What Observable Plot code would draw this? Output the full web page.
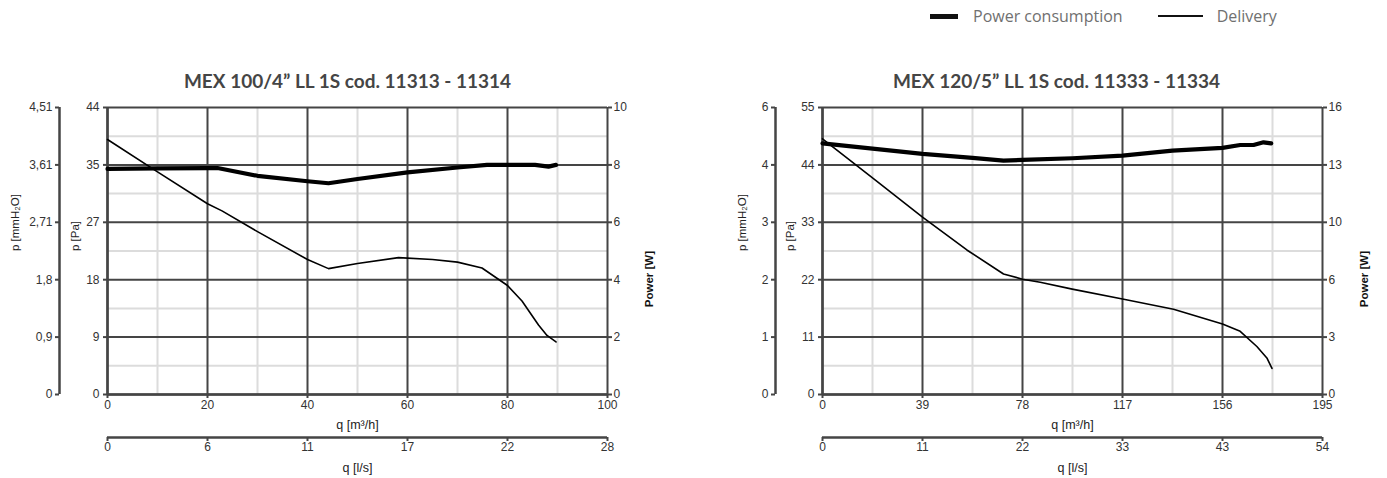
<!DOCTYPE html>
<html>
<head>
<meta charset="utf-8">
<script src="https://cdn.jsdelivr.net/npm/d3@7"></script>
<script src="https://cdn.jsdelivr.net/npm/@observablehq/plot@0.6"></script>
<style>
  body { margin: 0; background: #fff; }
  #wrap { position: relative; width: 1387px; height: 478px; overflow: hidden; background: #fff; }
  .panel { position: absolute; top: 0; }
  #legend { position: absolute; top: 5px; left: 930px; font-family: "Open Sans", sans-serif; font-size: 16px; color: #707070; display: flex; align-items: center; height: 22px; }
  .sw { display: inline-block; background: #111; }
</style>
</head>
<body>
<div id="wrap">
  <div id="p1" class="panel" style="left:0px"></div>
  <div id="p2" class="panel" style="left:715px"></div>
  <div id="legend"></div>
</div>
<script>
// ---------- data ----------
const legendLabels = ["Power consumption", "Delivery"];
const titles = ["MEX 100/4\u201D LL 1S cod. 11313 - 11314", "MEX 120/5\u201D LL 1S cod. 11333 - 11334"];
const axisTitles = { mm: "p [mmH\u2082O]", pa: "p [Pa]", power: "Power [W]", q: "q [m\u00B3/h]", ls: "q [l/s]" };

// panel 1 : MEX 100/4"
const p1QMax = 100, p1PaMax = 44.23, p1PowerMax = 10;
const p1QLabels = ["0", "20", "40", "60", "80", "100"];
const p1LsLabels = ["0", "6", "11", "17", "22", "28"];
const p1PaLabels = ["0", "9", "18", "27", "35", "44"];
const p1MmLabels = ["0", "0,9", "1,8", "2,71", "3,61", "4,51"];
const p1PowerLabels = ["0", "2", "4", "6", "8", "10"];
const p1DeliveryQ  = [0, 10, 20, 22.9, 30, 40, 44.2, 50, 58.2, 65, 70, 74.9, 80, 82.9, 86.2, 87.9, 89.7];
const p1DeliveryPa = [39.3, 34.3, 29.4, 28.3, 25.1, 20.8, 19.4, 20.2, 21.1, 20.8, 20.4, 19.5, 16.8, 14.4, 10.7, 9.1, 8.1];
const p1PowerQ = [0, 10, 20, 22, 30, 40, 44.2, 50, 60, 70, 75.9, 80, 85.5, 88.2, 89.7];
const p1PowerW = [7.86, 7.88, 7.89, 7.89, 7.62, 7.43, 7.36, 7.51, 7.74, 7.91, 8.0, 8.0, 8.0, 7.94, 8.0];

// panel 2 : MEX 120/5"
const p2QMax = 195, p2PaMax = 55, p2PowerMax = 16;
const p2QLabels = ["0", "39", "78", "117", "156", "195"];
const p2LsLabels = ["0", "11", "22", "33", "43", "54"];
const p2PaLabels = ["0", "11", "22", "33", "44", "55"];
const p2MmLabels = ["0", "1", "2", "3", "4", "6"];
const p2PowerLabels = ["0", "3", "6", "10", "13", "16"];
const p2DeliveryQ  = [0, 20, 39, 56.3, 70.6, 78, 84.9, 97.4, 117, 136.9, 156, 162.9, 169.4, 173.3, 175.3];
const p2DeliveryPa = [49.0, 41.3, 34.0, 27.7, 23.1, 22.1, 21.5, 20.2, 18.3, 16.35, 13.5, 12.1, 9.2, 7.0, 5.0];
const p2PowerQ = [0, 39, 58.5, 70.6, 78, 97.5, 117, 136.5, 156, 162.9, 168.1, 172, 175];
const p2PowerW = [14.0, 13.41, 13.19, 13.04, 13.08, 13.17, 13.32, 13.6, 13.75, 13.91, 13.91, 14.06, 14.0];

// ---------- drawing ----------
const DARK = "#454545";
function makePanel(o) {
  const qMajor = d3.range(6).map(i => i * o.qMax / 5);
  const qMinor = d3.range(5).map(i => (i + 0.5) * o.qMax / 5);
  const yMajor = d3.range(6).map(i => i * o.paMax / 5);
  const yMinor = d3.range(5).map(i => (i + 0.5) * o.paMax / 5);
  const k = o.paMax / o.powerMax;
  const lab = (ticks, labels) => d => labels[ticks.indexOf(d)];
  const delivery = o.delQ.map((q, i) => ({ q, v: o.delPa[i] }));
  const power = o.powQ.map((q, i) => ({ q, v: o.powW[i] * k }));
  const gMinor = { stroke: "#dcdcdc", strokeOpacity: 1, strokeWidth: 2 };
  const gMajor = { stroke: DARK, strokeOpacity: 1, strokeWidth: 2 };
  const tick = { stroke: DARK, strokeWidth: 2, label: null, fill: "#333" };
  return Plot.plot({
    width: o.width, height: 478,
    marginTop: 107, marginBottom: 84, marginLeft: 107, marginRight: o.width - 607,
    x: { domain: [0, o.qMax] },
    y: { domain: [0, o.paMax] },
    style: { fontFamily: "'Liberation Sans', Arial, sans-serif", fontSize: "12px", color: "#333", background: "transparent", overflow: "visible" },
    marks: [
      Plot.gridX(qMinor, gMinor),
      Plot.gridY(yMinor, gMinor),
      Plot.gridX(qMajor, gMajor),
      Plot.gridY(yMajor, gMajor),
      Plot.ruleX([0], { stroke: DARK, strokeWidth: 2.5 }),
      Plot.ruleY([0], { stroke: DARK, strokeWidth: 2.5 }),
      Plot.ruleX([0], { dx: o.mmDx, stroke: DARK, strokeWidth: 2.5 }),
      Plot.ruleY([0], { dy: 43, stroke: DARK, strokeWidth: 2.5 }),
      Plot.axisY(yMajor, { ...tick, anchor: "left", tickSize: 4, tickPadding: 4, tickFormat: lab(yMajor, o.paLabels) }),
      Plot.axisY(yMajor, { ...tick, anchor: "left", dx: o.mmDx, tickSize: 4, tickPadding: 3, tickFormat: lab(yMajor, o.mmLabels) }),
      Plot.axisY(yMajor, { ...tick, anchor: "right", tickSize: 4, tickPadding: 2, tickFormat: lab(yMajor, o.powerLabels) }),
      Plot.axisX(qMajor, { ...tick, anchor: "bottom", tickSize: 4, tickPadding: 2, tickFormat: lab(qMajor, o.qLabels) }),
      Plot.axisX(qMajor, { ...tick, anchor: "bottom", dy: 43, tickSize: 4, tickPadding: 1, tickFormat: lab(qMajor, o.lsLabels) }),
      Plot.line(delivery, { x: "q", y: "v", stroke: "#000", strokeWidth: 1.6, strokeLinejoin: "round" }),
      Plot.line(power, { x: "q", y: "v", stroke: "#000", strokeWidth: 4.2, strokeLinejoin: "round", strokeLinecap: "round" }),
      Plot.text([o.title], { frameAnchor: "top", dy: -26, dx: o.titleDx, fontSize: 19, fontWeight: "bold", fontFamily: "Lato, sans-serif", fill: "#454545", lineAnchor: "middle" }),
      Plot.text([axisTitles.mm], { frameAnchor: "left", rotate: -90, dx: o.mmLabelDx, fill: "#222", fontSize: 11.5 }),
      Plot.text([axisTitles.pa], { frameAnchor: "left", rotate: -90, dx: -32, fill: "#222", fontSize: 11.5 }),
      Plot.text([axisTitles.power], { frameAnchor: "right", rotate: -90, dx: 41.5, fill: "#111", fontSize: 11.5, fontWeight: "bold" }),
      Plot.text([axisTitles.q], { frameAnchor: "bottom", dy: 30, fill: "#222", fontSize: 12.5, lineAnchor: "middle" }),
      Plot.text([axisTitles.ls], { frameAnchor: "bottom", dy: 73, fill: "#222", fontSize: 12.5, lineAnchor: "middle" })
    ]
  });
}

document.getElementById("p1").append(makePanel({
  width: 693, qMax: p1QMax, paMax: p1PaMax, powerMax: p1PowerMax,
  qLabels: p1QLabels, lsLabels: p1LsLabels, paLabels: p1PaLabels, mmLabels: p1MmLabels, powerLabels: p1PowerLabels,
  delQ: p1DeliveryQ, delPa: p1DeliveryPa, powQ: p1PowerQ, powW: p1PowerW,
  title: titles[0], titleDx: -10, mmDx: -48, mmLabelDx: -92
}));
document.getElementById("p2").append(makePanel({
  width: 672, qMax: p2QMax, paMax: p2PaMax, powerMax: p2PowerMax,
  qLabels: p2QLabels, lsLabels: p2LsLabels, paLabels: p2PaLabels, mmLabels: p2MmLabels, powerLabels: p2PowerLabels,
  delQ: p2DeliveryQ, delPa: p2DeliveryPa, powQ: p2PowerQ, powW: p2PowerW,
  title: titles[1], titleDx: -16, mmDx: -47, mmLabelDx: -80
}));

// legend
const lg = document.getElementById("legend");
lg.innerHTML =
  `<span class="sw" style="width:28px;height:5px;margin-right:15px"></span><span>${legendLabels[0]}</span>` +
  `<span class="sw" style="width:45px;height:2px;margin-left:35px;margin-right:14px"></span><span>${legendLabels[1]}</span>`;
</script>
</body>
</html>
